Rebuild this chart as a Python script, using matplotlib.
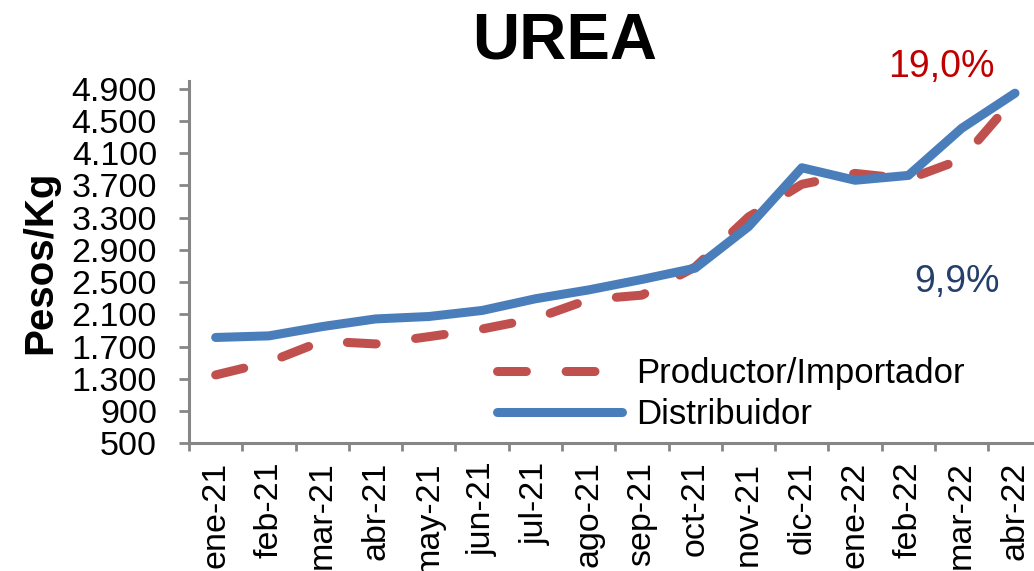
import matplotlib
matplotlib.use("Agg")
import matplotlib.pyplot as plt
from matplotlib.ticker import FuncFormatter

plt.rcParams["font.family"] = "Liberation Sans"

# ── data ─────────────────────────────────────────────────────────────────────
MONTHS = ["ene-21", "feb-21", "mar-21", "abr-21", "may-21", "jun-21",
          "jul-21", "ago-21", "sep-21", "oct-21", "nov-21", "dic-21",
          "ene-22", "feb-22", "mar-22", "abr-22"]
PRODUCTOR = [1350, 1510, 1770, 1735, 1825, 1920, 2050, 2285,
             2340, 2690, 3310, 3715, 3850, 3780, 4025, 4790]
DISTRIBUIDOR = [1815, 1835, 1950, 2045, 2075, 2150, 2295, 2405,
                2535, 2675, 3190, 3920, 3765, 3825, 4410, 4845]
Y_TICKS = list(range(500, 5000, 400))

BLUE = "#4A7EBB"
RED = "#C0504D"
AXIS_GRAY = "#868686"

fig = plt.figure(figsize=(10.34, 5.71), dpi=100)
ax = fig.add_axes([0.1828, 0.2233, 0.8246, 0.6354])

x = list(range(len(MONTHS)))
ax.plot(x, PRODUCTOR, color=RED, linewidth=6.5, dashes=(3.2, 4.4),
        dash_capstyle="round", solid_capstyle="round", label="Productor/Importador",
        zorder=2)
ax.plot(x, DISTRIBUIDOR, color=BLUE, linewidth=6.5, solid_capstyle="round",
        solid_joinstyle="round", label="Distribuidor", zorder=3)

ax.set_xlim(-0.5, len(MONTHS) - 0.5)
ax.set_ylim(500, 5000)

# y axis
ax.set_yticks(Y_TICKS)
ax.yaxis.set_major_formatter(FuncFormatter(lambda v, p: f"{int(v):,}".replace(",", ".")))
ax.tick_params(axis="y", length=7, width=2, color=AXIS_GRAY, pad=16,
               labelsize=24.5, labelcolor="black")

# x axis: labels at centres, tick marks at boundaries
ax.set_xticks(x)
ax.set_xticklabels(MONTHS, rotation=90, va="top", ha="center")
ax.set_xticks([i - 0.5 for i in range(len(MONTHS) + 1)], minor=True)
ax.tick_params(axis="x", which="major", length=0, pad=13, labelsize=24.5)
ax.tick_params(axis="x", which="minor", length=6, width=2, color=AXIS_GRAY)

for s in ["top", "right"]:
    ax.spines[s].set_visible(False)
for s in ["left", "bottom"]:
    ax.spines[s].set_color(AXIS_GRAY)
    ax.spines[s].set_linewidth(2.2)

leg = ax.legend(loc="center left", bbox_to_anchor=(0.3618, 0.1364),
                frameon=False, fontsize=25, handlelength=3.6,
                handletextpad=0.4, borderpad=0, borderaxespad=0,
                labelspacing=0.22)

# texts
fig.text(0.5464, 0.8984, "UREA", fontsize=47, fontweight="bold",
         ha="center", va="baseline")
fig.text(0.0387, 0.540, "Pesos/Kg", fontsize=29, fontweight="bold",
         rotation=90, ha="center", va="center")
fig.text(0.9107, 0.8657, "19,0%", fontsize=27, color="#C00000",
         ha="center", va="baseline")
fig.text(0.9255, 0.4886, "9,9%", fontsize=27, color="#243F6B",
         ha="center", va="baseline")

fig.savefig("out.png", dpi=100)
